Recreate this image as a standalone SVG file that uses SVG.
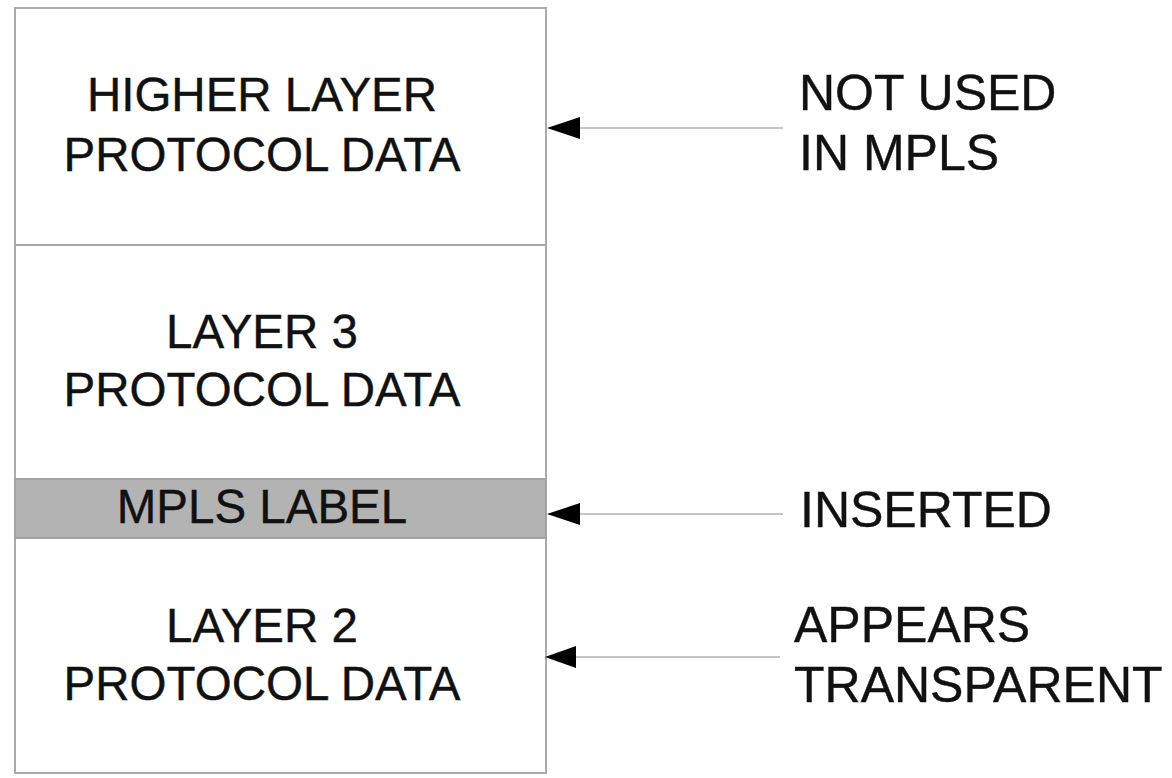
<svg xmlns="http://www.w3.org/2000/svg" width="1172" height="778" viewBox="0 0 1172 778">
  <style>
    .frame { fill: #ffffff; stroke: #ababab; stroke-width: 2; }
    .band { fill: #b3b3b3; stroke: #a3a3a3; stroke-width: 2; }
    .rule { stroke: #a8a8a8; stroke-width: 2; }
    .lbl { font-family: "Liberation Sans", Arial, sans-serif; font-size: 47.5px; fill: #111111; text-anchor: middle; stroke: #111111; stroke-width: 0.4; }
    .note { font-family: "Liberation Sans", Arial, sans-serif; font-size: 50px; fill: #111111; stroke: #111111; stroke-width: 0.4; }
    .conn { stroke: #c4c4c4; stroke-width: 2; fill: none; }
    .head { fill: #000000; }
  </style>
  <rect width="1172" height="778" fill="#ffffff"/>

  <!-- protocol stack -->
  <g id="stack">
    <rect class="frame" x="15" y="8" width="531" height="765"/>
    <line class="rule" x1="15" y1="245" x2="546" y2="245"/>
  </g>

  <g id="higher-layer">
    <text class="lbl" x="262" y="111">HIGHER LAYER</text>
    <text class="lbl" x="262" y="171">PROTOCOL DATA</text>
  </g>

  <g id="layer3">
    <text class="lbl" x="262" y="348">LAYER 3</text>
    <text class="lbl" x="262" y="406">PROTOCOL DATA</text>
  </g>

  <g id="mpls-label">
    <rect class="band" x="15" y="479" width="531" height="59"/>
    <text class="lbl" x="262" y="523">MPLS LABEL</text>
  </g>

  <g id="layer2">
    <text class="lbl" x="262" y="642">LAYER 2</text>
    <text class="lbl" x="262" y="700">PROTOCOL DATA</text>
  </g>

  <!-- side notes -->
  <g id="note-not-used">
    <text class="note" x="799" y="110">NOT USED</text>
    <text class="note" x="799" y="170">IN MPLS</text>
  </g>
  <g id="note-inserted">
    <text class="note" x="800" y="527">INSERTED</text>
  </g>
  <g id="note-transparent">
    <text class="note" x="794" y="642">APPEARS</text>
    <text class="note" x="794" y="702">TRANSPARENT</text>
  </g>

  <!-- connectors -->
  <g id="connectors">
    <line class="conn" x1="578" y1="128" x2="783" y2="128"/>
    <polygon class="head" points="547,128 580,117 580,139"/>
    <line class="conn" x1="578" y1="514" x2="783" y2="514"/>
    <polygon class="head" points="547,514 580,503 580,525"/>
    <line class="conn" x1="575" y1="657" x2="780" y2="657"/>
    <polygon class="head" points="545,657 576,646 576,668"/>
  </g>
</svg>
